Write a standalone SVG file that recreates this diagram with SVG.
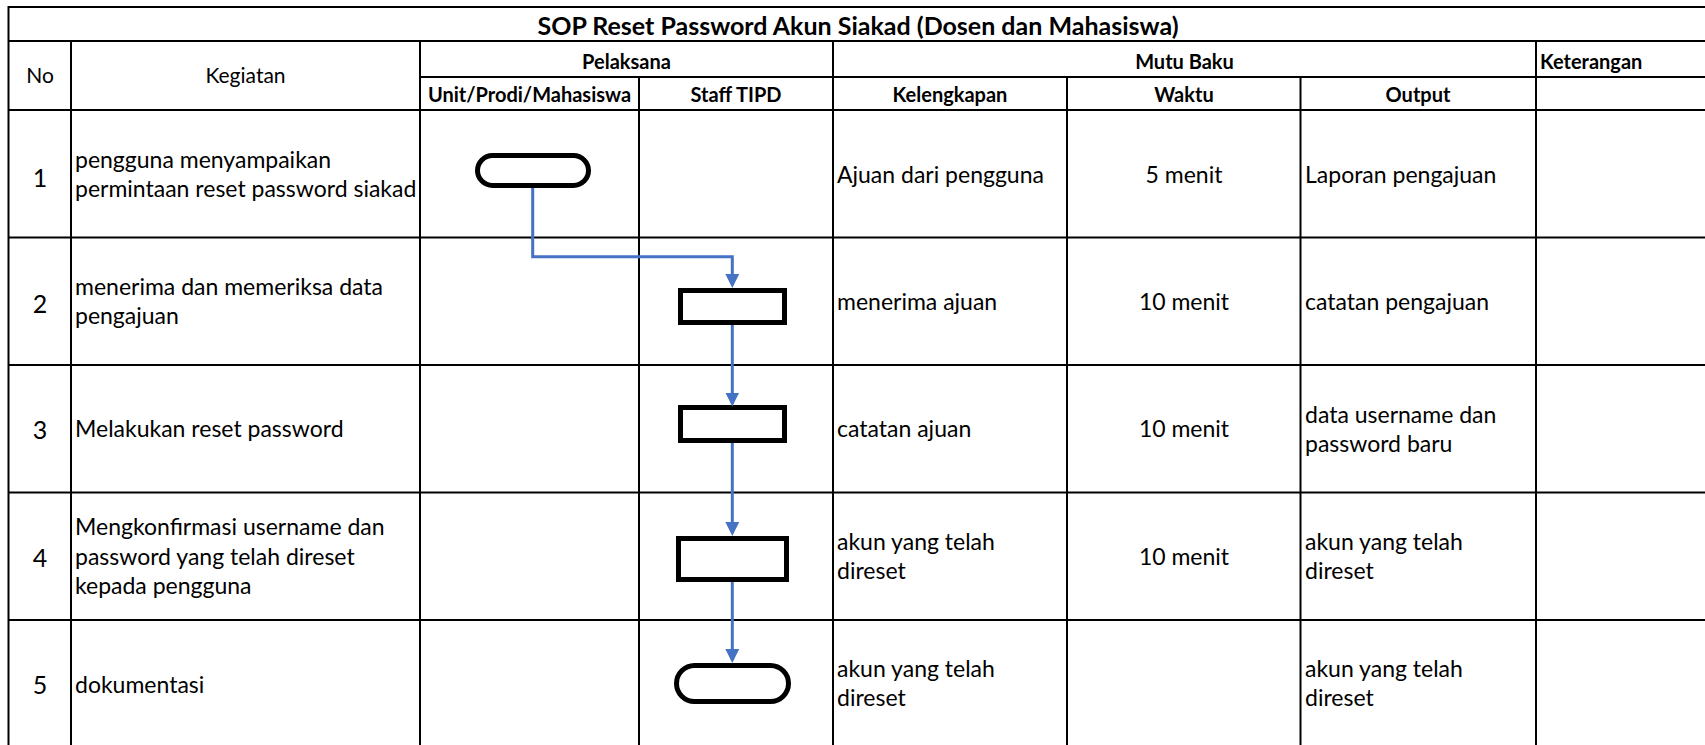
<svg xmlns="http://www.w3.org/2000/svg" width="1705" height="745" viewBox="0 0 1705 745">
<style>
text{font-family:Lato,"Liberation Sans",sans-serif;fill:#000}
.t{font-size:25px;font-weight:bold}
.h{font-size:20px;font-weight:bold}
.hr{font-size:21px}
.b{font-size:23px}
.n{font-size:25px}
.c{text-anchor:middle}
.grid line{stroke:#000;stroke-width:2}
.shape{fill:#fff;stroke:#000;stroke-width:5}
.conn{fill:none;stroke:#4472C4;stroke-width:3}
</style>
<defs>
<marker id="arr" viewBox="0 0 14 14" refX="11" refY="7" markerWidth="14" markerHeight="14" markerUnits="userSpaceOnUse" orient="auto">
<path d="M0,0 L14,7 L0,14 z" fill="#4472C4"/>
</marker>
</defs>
<rect width="1705" height="745" fill="#fff"/>
<g class="grid">
<line x1="8" y1="7" x2="1705" y2="7"/>
<line x1="8" y1="41" x2="1705" y2="41"/>
<line x1="420" y1="77" x2="1705" y2="77"/>
<line x1="8" y1="110" x2="1705" y2="110"/>
<line x1="8" y1="237.5" x2="1705" y2="237.5"/>
<line x1="8" y1="365" x2="1705" y2="365"/>
<line x1="8" y1="492.5" x2="1705" y2="492.5"/>
<line x1="8" y1="620" x2="1705" y2="620"/>
<line x1="8.5" y1="6" x2="8.5" y2="745"/>
<line x1="71" y1="41" x2="71" y2="745"/>
<line x1="420" y1="41" x2="420" y2="745"/>
<line x1="639" y1="77" x2="639" y2="745"/>
<line x1="833" y1="41" x2="833" y2="745"/>
<line x1="1067" y1="77" x2="1067" y2="745"/>
<line x1="1300.5" y1="77" x2="1300.5" y2="745"/>
<line x1="1536" y1="41" x2="1536" y2="745"/>
</g>
<g id="header">
<text class="t c" x="858" y="35">SOP Reset Password Akun Siakad (Dosen dan Mahasiswa)</text>
<text class="hr c" x="40" y="83">No</text>
<text class="hr c" x="245.5" y="83">Kegiatan</text>
<text class="h c" x="626.5" y="68.5">Pelaksana</text>
<text class="h c" x="1184.5" y="68.5">Mutu Baku</text>
<text class="h" x="1540" y="68.5">Keterangan</text>
<text class="h c" x="529.5" y="101.5">Unit/Prodi/Mahasiswa</text>
<text class="h c" x="736" y="101.5">Staff TIPD</text>
<text class="h c" x="950" y="101.5">Kelengkapan</text>
<text class="h c" x="1184" y="101.5">Waktu</text>
<text class="h c" x="1418" y="101.5">Output</text>
</g>
<g id="row1">
<text class="n c" x="40" y="187">1</text>
<text class="b" x="75" y="168">pengguna menyampaikan</text>
<text class="b" x="75" y="197">permintaan reset password siakad</text>
<text class="b" x="837" y="183">Ajuan dari pengguna</text>
<text class="b c" x="1184" y="183">5 menit</text>
<text class="b" x="1305" y="183">Laporan pengajuan</text>
</g>
<g id="row2">
<text class="n c" x="40" y="313">2</text>
<text class="b" x="75" y="295">menerima dan memeriksa data</text>
<text class="b" x="75" y="324">pengajuan</text>
<text class="b" x="837" y="310">menerima ajuan</text>
<text class="b c" x="1184" y="310">10 menit</text>
<text class="b" x="1305" y="310">catatan pengajuan</text>
</g>
<g id="row3">
<text class="n c" x="40" y="439">3</text>
<text class="b" x="75" y="437">Melakukan reset password</text>
<text class="b" x="837" y="437">catatan ajuan</text>
<text class="b c" x="1184" y="437">10 menit</text>
<text class="b" x="1305" y="423">data username dan</text>
<text class="b" x="1305" y="452">password baru</text>
</g>
<g id="row4">
<text class="n c" x="40" y="567">4</text>
<text class="b" x="75" y="535">Mengkonfirmasi username dan</text>
<text class="b" x="75" y="564.5">password yang telah direset</text>
<text class="b" x="75" y="594">kepada pengguna</text>
<text class="b" x="837" y="550">akun yang telah</text>
<text class="b" x="837" y="579">direset</text>
<text class="b c" x="1184" y="565">10 menit</text>
<text class="b" x="1305" y="550">akun yang telah</text>
<text class="b" x="1305" y="579">direset</text>
</g>
<g id="row5">
<text class="n c" x="40" y="694">5</text>
<text class="b" x="75" y="693">dokumentasi</text>
<text class="b" x="837" y="677">akun yang telah</text>
<text class="b" x="837" y="706">direset</text>
<text class="b" x="1305" y="677">akun yang telah</text>
<text class="b" x="1305" y="706">direset</text>
</g>
<g id="n1"><rect class="shape" x="477.5" y="155.5" width="111" height="30" rx="15"/></g>
<g id="n2"><rect class="shape" x="680.5" y="290.5" width="104" height="32"/></g>
<g id="n3"><rect class="shape" x="680.5" y="407.5" width="104" height="33"/></g>
<g id="n4"><rect class="shape" x="678.5" y="538.5" width="108" height="41"/></g>
<g id="n5"><rect class="shape" x="676.5" y="665.5" width="112" height="36" rx="18"/></g>
<g id="connectors">
<path class="conn" d="M532.7,188 V256.7 H732.3 V285" marker-end="url(#arr)"/>
<path class="conn" d="M732.3,325 V403.5" marker-end="url(#arr)"/>
<path class="conn" d="M732.3,443 V533" marker-end="url(#arr)"/>
<path class="conn" d="M732.3,582 V660" marker-end="url(#arr)"/>
</g>
</svg>
